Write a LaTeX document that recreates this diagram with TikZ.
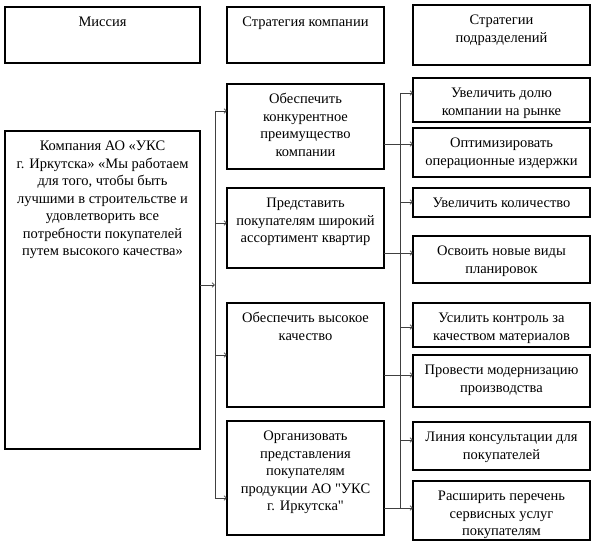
\documentclass[tikz,border=0pt]{standalone}
\usepackage{fontspec}
\newfontfamily\tnr{Liberation Serif}
\usetikzlibrary{arrows.meta}
\begin{document}
\begin{tikzpicture}[x=1pt,y=-1pt,
  frame/.style={draw=black,line width=1.6pt,inner sep=0pt,outer sep=0pt,anchor=north west},
  txt/.style={inner sep=0pt,anchor=north,align=center,font=\tnr\fontsize{14.5}{17.5}\selectfont},
  conn/.style={draw=black!75,line width=0.7pt},
  arr/.style={conn,-{Straight Barb[length=2.5pt,width=4.5pt]}}]
\useasboundingbox (0,0) rectangle (597,548);
\newcommand\mybox[6]{%
  \node[frame,minimum width={#4-#2},minimum height={#5-#3}] (#1) at (#2,#3) {};
  \node[txt] (#1t) at ({(#2+#4)/2},{#3+7.5}) {\strut #6};}
% headers
\mybox{H1}{5}{7}{200}{63}{Миссия}
\mybox{H2}{227}{7}{384}{63}{Стратегия компании}
\mybox{H3}{413}{5}{590}{65}{Стратегии\\подразделений}
% left
\mybox{L}{5}{131}{200}{449}{Компания АО «УКС\\г. Иркутска» «Мы работаем\\для того, чтобы быть\\лучшими в строительстве и\\удовлетворить все\\потребности покупателей\\путем высокого качества»}
% middle
\mybox{M1}{227}{84}{384}{169}{Обеспечить\\конкурентное\\преимущество\\компании}
\mybox{M2}{227}{188}{384}{268}{Представить\\покупателям широкий\\ассортимент квартир}
\mybox{M3}{227}{303}{384}{407}{Обеспечить высокое\\качество}
\mybox{M4}{227}{421}{384}{535}{Организовать\\представления\\покупателям\\продукции АО "УКС\\г. Иркутска"}
% right
\mybox{R1}{413}{78}{590}{122}{Увеличить долю\\компании на рынке}
\mybox{R2}{413}{128}{590}{177}{Оптимизировать\\операционные издержки}
\mybox{R3}{413}{188}{590}{217}{Увеличить количество}
\mybox{R4}{413}{236}{590}{283}{Освоить новые виды\\планировок}
\mybox{R5}{413}{303}{590}{347}{Усилить контроль за\\качеством материалов}
\mybox{R6}{413}{355}{590}{407}{Провести модернизацию\\производства}
\mybox{R7}{413}{422}{590}{470}{Линия консультации для\\покупателей}
\mybox{R8}{413}{481}{590}{540}{Расширить перечень\\сервисных услуг\\покупателям}
% left bus
\coordinate (lb1) at (215,111);
\coordinate (lb2) at (215,223);
\coordinate (lb3) at (215,355);
\coordinate (lb4) at (215,498);
\coordinate (lj) at (215,285);
\draw[conn] (lb1) -- (lb4);
\draw[arr] (L.east |- lj) -- (lj);
\draw[arr] (lb1) -- (lb1 -| M1.west);
\draw[arr] (lb2) -- (lb2 -| M2.west);
\draw[arr] (lb3) -- (lb3 -| M3.west);
\draw[arr] (lb4) -- (lb4 -| M4.west);
% right bus
\coordinate (rb1) at (400,93);
\coordinate (rb3) at (400,202);
\coordinate (rb5) at (400,327);
\coordinate (rb7) at (400,440);
\coordinate (rb8) at (400,508);
\draw[conn] (rb1) -- (rb8);
\draw[arr] (rb1) -- (rb1 -| R1.west);
\draw[arr] (rb3) -- (rb3 -| R3.west);
\draw[arr] (rb5) -- (rb5 -| R5.west);
\draw[arr] (rb7) -- (rb7 -| R7.west);
% middle outputs
\coordinate (o1) at (0,144);
\coordinate (o2) at (0,253);
\coordinate (o3) at (0,375);
\coordinate (o4) at (0,508);
\draw[arr] (M1.east |- o1) -- (R2.west |- o1);
\draw[arr] (M2.east |- o2) -- (R4.west |- o2);
\draw[arr] (M3.east |- o3) -- (R6.west |- o3);
\draw[arr] (M4.east |- o4) -- (R8.west |- o4);
\end{tikzpicture}
\end{document}
